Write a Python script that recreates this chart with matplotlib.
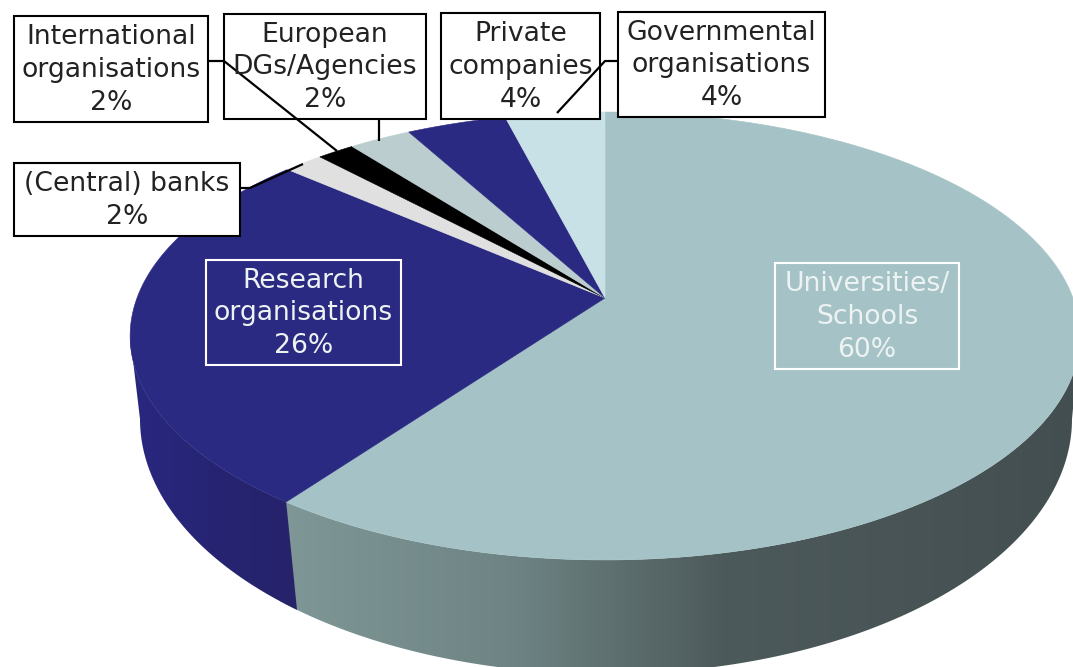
import numpy as np
import matplotlib
matplotlib.use('Agg')
import matplotlib.pyplot as plt
from matplotlib.colors import LinearSegmentedColormap
from matplotlib.patches import Polygon, Rectangle

# wedge sizes, labels as printed
shares = [60, 26.4, 1.6, 1.5, 2.5, 4, 4]
colors = ['#a5c3c6', '#2b2a82', '#e0e0e0', '#000000', '#bccdd0', '#2b2a82', '#c8e1e6']
labels = ['Universities/\nSchools\n60%', 'Research\norganisations\n26%', '(Central) banks\n2%',
          'International\norganisations\n2%', 'European\nDGs/Agencies\n2%',
          'Private\ncompanies\n4%', 'Governmental\norganisations\n4%']

boxes = [(775, 263, 959, 369), (206, 260, 401, 365), (14, 163, 240, 236),
         (14, 16, 208, 122), (224, 14, 426, 119), (441, 13, 600, 119), (618, 12, 825, 117)]
leaders = [None, None,
           [(240, 188), (250, 188), (303, 164)],
           [(208, 61), (224, 61), (337, 151)],
           [(379, 120), (379, 141)],
           None,
           [(618, 61), (605, 61), (557, 113)]]


# tilted circle -> image, theta is clockwise from the top
def rim(theta):
    u, v = np.sin(theta), np.cos(theta)
    d = 1 + 0.1696 * v
    return np.column_stack([605 + 468 * u / d, (298 - 167 * v) / d])


# lower edge of the side wall
def lower(phi):
    return np.column_stack([606 + 466 * np.cos(phi), 419 + 255 * np.sin(phi)])


fig = plt.figure(figsize=(10.73, 6.67), dpi=100)
ax = fig.add_axes([0, 0, 1, 1])
ax.set_xlim(0, 1073)
ax.set_ylim(667, 0)
ax.axis('off')

# side wall
t_right, t_left = np.radians(99.8), np.radians(260.2)
side = np.vstack([rim(np.linspace(t_right, t_left, 200)), lower(np.linspace(np.pi, 0, 200))])
clip = Polygon(side, closed=True, transform=ax.transData, fc='none', ec='none')
ax.add_patch(clip)
grey = LinearSegmentedColormap.from_list('g', [(0, '#7f9796'), (0.28, '#6f8585'), (0.55, '#4d5a5b'), (1, '#434e50')])
im = ax.imshow(np.linspace(0, 1, 256)[None, :], extent=(280, 1085, 680, 330), cmap=grey, aspect='auto', zorder=1)
im.set_clip_path(clip)

t_split = np.radians(216)
low_x = np.arccos((297 - 606) / 466)
navy_side = np.vstack([rim(np.linspace(t_split, t_left, 80)), lower(np.linspace(np.pi, low_x, 80))])
clip2 = Polygon(navy_side, closed=True, transform=ax.transData, fc='none', ec='none')
ax.add_patch(clip2)
navy = LinearSegmentedColormap.from_list('n', ['#292880', '#262472', '#27236b'])
im2 = ax.imshow(np.linspace(0, 1, 256)[None, :], extent=(130, 300, 680, 330), cmap=navy, aspect='auto', zorder=1)
im2.set_clip_path(clip2)

# top face
start = 0
for s, c in zip(shares, colors):
    t = np.radians(np.linspace(start, start + s, 150) * 3.6)
    ax.add_patch(Polygon(np.vstack([[605, 298], rim(t)]), closed=True, fc=c, ec=c, lw=0.4, zorder=2))
    start += s

# labels
for i, (lab, (x0, y0, x1, y1)) in enumerate(zip(labels, boxes)):
    inside = i < 2
    fc = 'none' if inside else 'white'
    ec = 'white' if inside else 'black'
    ax.add_patch(Rectangle((x0, y0), x1 - x0, y1 - y0, fc=fc, ec=ec, lw=1.5, zorder=3))
    tc = '#edf3f3' if inside else '#222222'
    ax.text((x0 + x1) / 2, (y0 + y1) / 2 + 1, lab, ha='center', va='center', fontsize=19.2,
            color=tc, linespacing=1.33, family='DejaVu Sans', zorder=5)
for pts in leaders:
    if pts:
        xs, ys = zip(*pts)
        ax.plot(xs, ys, color='black', lw=1.6, zorder=4, solid_capstyle='butt')

fig.savefig('out.png', dpi=100)
